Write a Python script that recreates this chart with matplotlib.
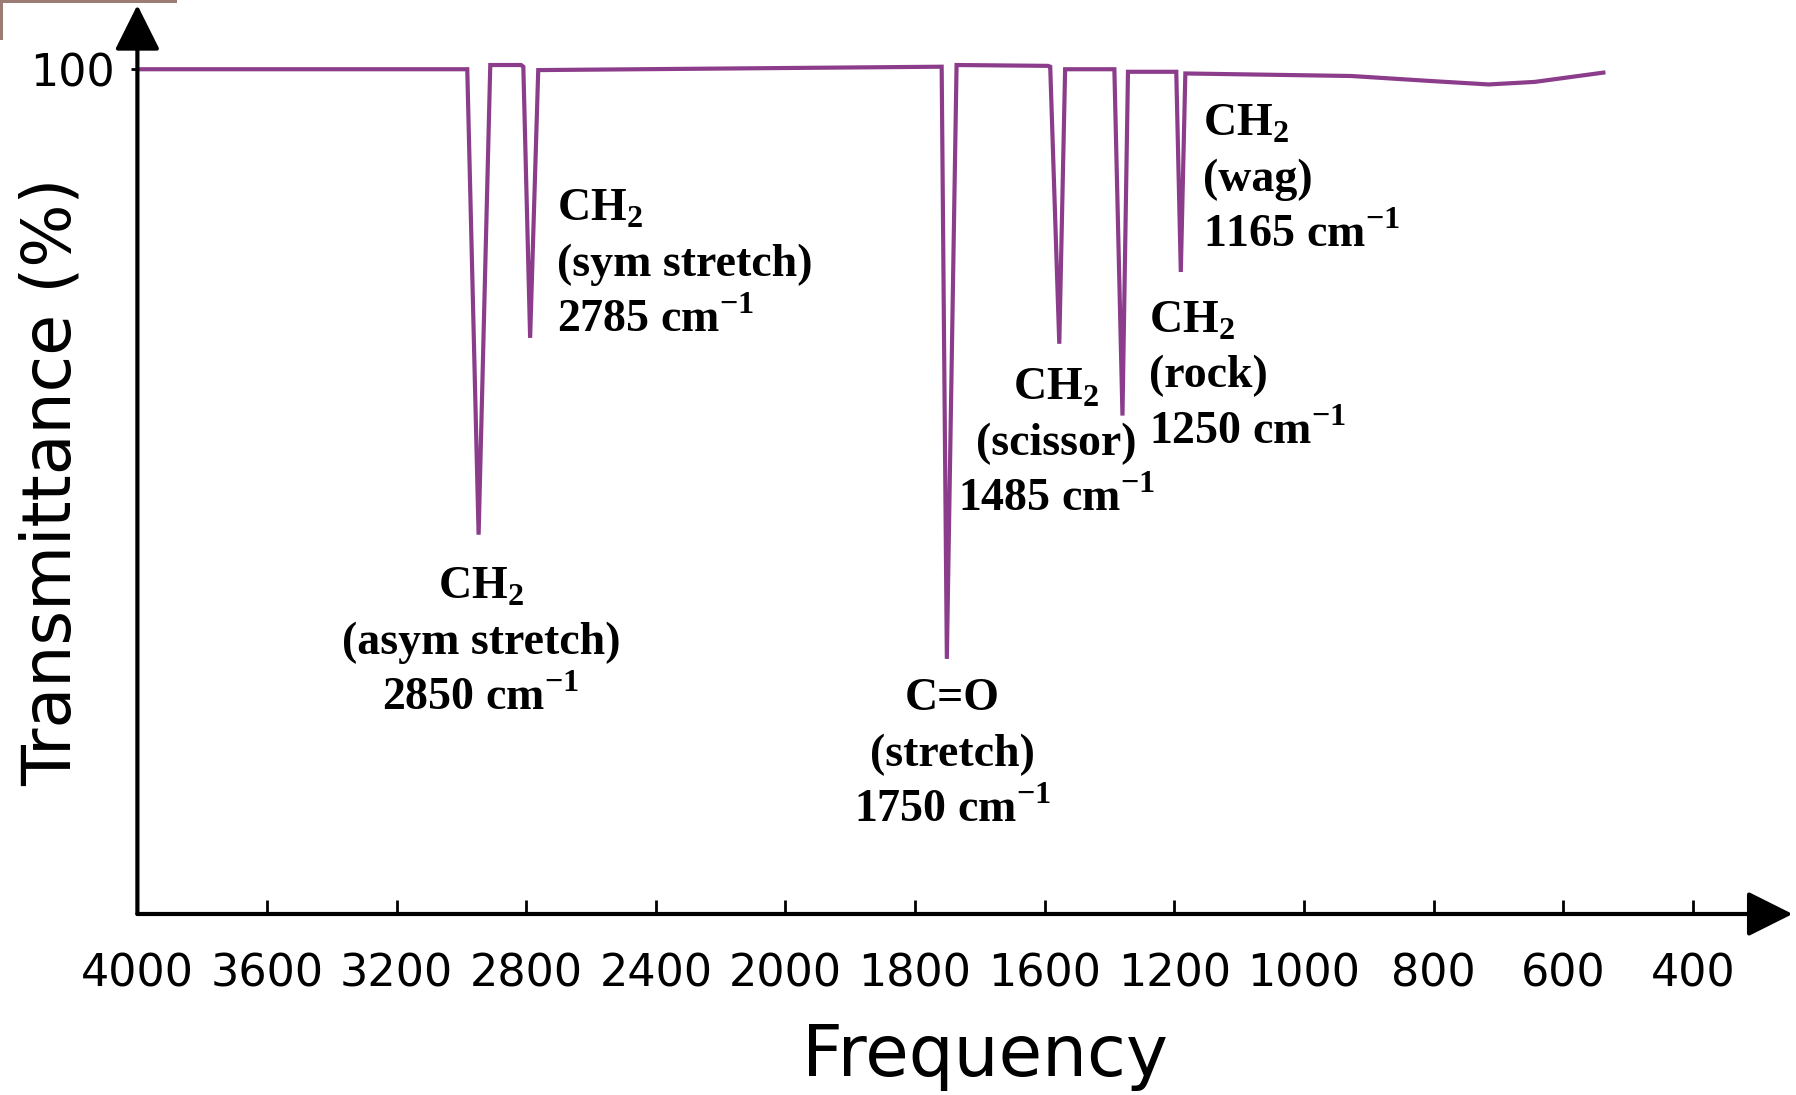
import numpy as np
import matplotlib
matplotlib.use("Agg")
import matplotlib.pyplot as plt
from matplotlib.patches import Rectangle

plt.rcParams["mathtext.fontset"] = "custom"
plt.rcParams["mathtext.rm"] = "Liberation Serif"
plt.rcParams["mathtext.bf"] = "Liberation Serif:bold"

# axis ticks (unevenly spaced values, evenly spaced on the chart)
tick_vals = [4000, 3600, 3200, 2800, 2400, 2000, 1800, 1600, 1200, 1000, 800, 600, 400]

# spectrum trace (wavenumber, transmittance %)
wavenumber = [4000, 2982, 2947, 2911, 2816, 2809, 2788, 2763, 1759, 1751, 1736,
              1590, 1583, 1555, 1537, 1385, 1360, 1343, 1197, 1190, 1183,
              927, 803, 715, 644, 538]
transmittance = [100.0, 100.0, 44.9, 100.5, 100.5, 100.3, 68.2, 99.9, 100.3, 30.2, 100.5,
                 100.4, 100.3, 67.5, 100.0, 100.0, 59.0, 99.7, 99.7, 76.0, 99.5,
                 99.2, 98.6, 98.2, 98.5, 99.6]

peak_labels = [
    "CH$_\\mathbf{2}$\n(sym stretch)\n2785 cm$^{\\mathbf{-1}}$",
    "CH$_\\mathbf{2}$\n(asym stretch)\n2850 cm$^{\\mathbf{-1}}$",
    "C=O\n(stretch)\n1750 cm$^{\\mathbf{-1}}$",
    "CH$_\\mathbf{2}$\n(scissor)\n1485 cm$^{\\mathbf{-1}}$",
    "CH$_\\mathbf{2}$\n(rock)\n1250 cm$^{\\mathbf{-1}}$",
    "CH$_\\mathbf{2}$\n(wag)\n1165 cm$^{\\mathbf{-1}}$",
]

# piecewise scale: every tick one step apart (increasing mapping, axis inverted)
asc_vals = np.array([0] + tick_vals[::-1] + [4400], dtype=float)
asc_pos = -np.array([14] + list(range(12, -1, -1)) + [-1], dtype=float)


def forward(x):
    return np.interp(np.asarray(x, dtype=float), asc_vals, asc_pos)


def inverse(p):
    return np.interp(np.asarray(p, dtype=float), asc_pos, asc_vals)


fig = plt.figure(figsize=(17.96, 10.95), dpi=100)
ax = fig.add_axes([0.0765, 0.1653, 0.9216, 0.8301])
ax.set_xscale("function", functions=(forward, inverse))
ax.set_xlim(4000, 246)
ax.set_ylim(0, 107.6)

ax.plot(wavenumber, transmittance, color="#8b3d8b", lw=3, solid_joinstyle="miter", zorder=3)

for s in ax.spines.values():
    s.set_visible(False)
arrow = dict(arrowstyle="-|>,head_length=2.8,head_width=1.4", lw=3, color="black",
             mutation_scale=10, shrinkA=0, shrinkB=0)
ax.annotate("", xy=(0, 1), xytext=(0, 0), xycoords="axes fraction", arrowprops=arrow)
ax.annotate("", xy=(1, 0), xytext=(0, 0), xycoords="axes fraction", arrowprops=arrow)

ax.set_xticks(tick_vals)
ax.set_xticklabels([str(v) for v in tick_vals])
ax.xaxis.set_minor_locator(matplotlib.ticker.NullLocator())
ax.tick_params(axis="x", direction="in", length=10, width=2, pad=28, labelsize=32)
ax.set_yticks([100])
ax.set_yticklabels(["100"])
ax.tick_params(axis="y", direction="out", length=4, width=2, pad=12, labelsize=32)

ax.set_xlabel("Frequency", fontsize=51, va="center")
ax.xaxis.set_label_coords(0.512, -0.157)
ax.set_ylabel("Transmittance (%)", fontsize=48, va="center")
ax.yaxis.set_label_coords(-0.0516, 0.475)

# label placements (wavenumber, transmittance, alignment)
places = [(2706, 76.8, "left"), (2940, 32.1, "center"), (1742, 18.8, "center"),
          (1565, 55.6, "center"), (1279, 63.6, "left"), (1156, 86.9, "left")]
for txt, (x, y, ha) in zip(peak_labels, places):
    ax.text(x, y, txt, ha=ha, va="center", multialignment=ha, fontsize=33,
            family="Liberation Serif", fontweight="bold", linespacing=1.4)

# thin brownish crop edge in the top-left corner of the source image
fig.patches.append(Rectangle((0, 1 - 3 / 1095), 177 / 1796, 3 / 1095,
                             transform=fig.transFigure, color="#9c7d75", lw=0))
fig.patches.append(Rectangle((0, 1 - 40 / 1095), 3 / 1796, 40 / 1095,
                             transform=fig.transFigure, color="#9c7d75", lw=0))

fig.savefig("out.png", dpi=100)
